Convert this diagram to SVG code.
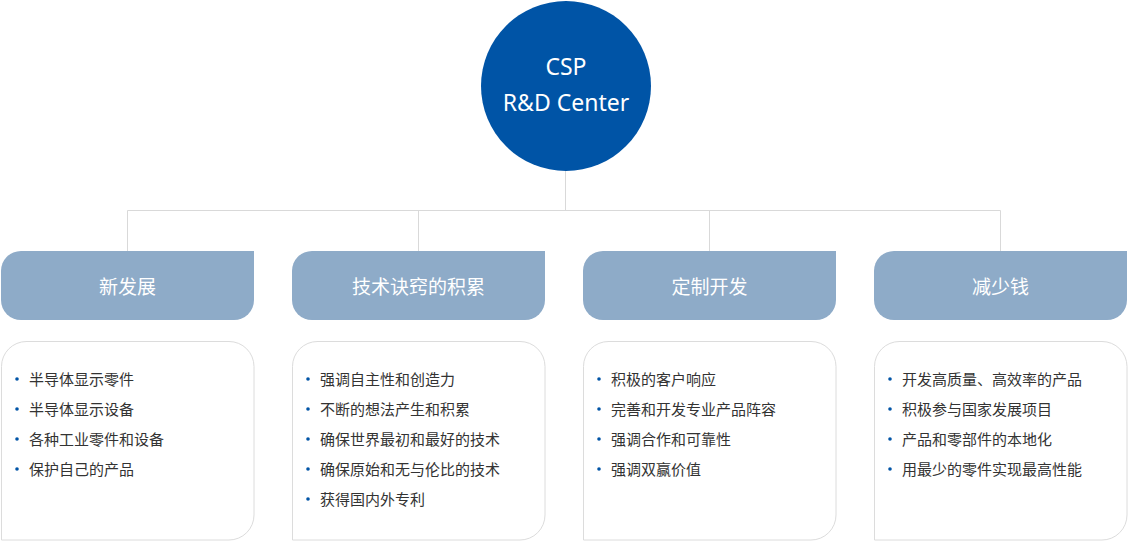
<svg xmlns="http://www.w3.org/2000/svg" width="1131" height="542" viewBox="0 0 1131 542">
<style>
.hd{fill:#8eabc8}
.bx{fill:#fff;stroke:#dcdcdc;stroke-width:1}
.ht{font-family:"Noto Sans CJK SC","Noto Sans",sans-serif;font-size:19px;fill:#fff;text-anchor:middle}
.it{font-family:"Noto Sans CJK SC","Noto Sans",sans-serif;font-size:15px;fill:#333}
.dot{fill:#0054a6}
.ln{stroke:#d9d9d9;stroke-width:1;fill:none}
</style>
<g id="connectors">
<path class="ln" d="M565.5 168V210.5M127.5 251V210.5H1000.5V251M418.5 210.5V251M709.5 210.5V251"/>
</g>
<g id="center">
<circle cx="566" cy="86" r="85" fill="#0054a6"/>
<text x="566" y="75" font-family="Noto Sans,sans-serif" font-size="23" fill="#fff" text-anchor="middle">CSP</text>
<text x="566" y="111" font-family="Noto Sans,sans-serif" font-size="23" fill="#fff" text-anchor="middle">R&amp;D Center</text>
</g>
<g id="col1" transform="translate(1,0)">
<path class="hd" d="M20 251H253V300a20 20 0 0 1-20 20H20a20 20 0 0 1-20-20V271a20 20 0 0 1 20-20Z"/>
<text class="ht" x="126.5" y="294">新发展</text>
<path class="bx" d="M25 341.5H228a25 25 0 0 1 25 25V515a25 25 0 0 1-25 25H0.5V366.5a25 25 0 0 1 25-25Z"/>
<g class="it"><text x="28" y="385">半导体显示零件</text><text x="28" y="415">半导体显示设备</text><text x="28" y="445">各种工业零件和设备</text><text x="28" y="475">保护自己的产品</text></g>
<g class="dot"><circle cx="16" cy="379" r="1.8"/><circle cx="16" cy="409" r="1.8"/><circle cx="16" cy="439" r="1.8"/><circle cx="16" cy="469" r="1.8"/></g>
</g>
<g id="col2" transform="translate(292,0)">
<path class="hd" d="M20 251H253V300a20 20 0 0 1-20 20H20a20 20 0 0 1-20-20V271a20 20 0 0 1 20-20Z"/>
<text class="ht" x="126.5" y="294">技术诀窍的积累</text>
<path class="bx" d="M25 341.5H228a25 25 0 0 1 25 25V515a25 25 0 0 1-25 25H0.5V366.5a25 25 0 0 1 25-25Z"/>
<g class="it"><text x="28" y="385">强调自主性和创造力</text><text x="28" y="415">不断的想法产生和积累</text><text x="28" y="445">确保世界最初和最好的技术</text><text x="28" y="475">确保原始和无与伦比的技术</text><text x="28" y="505">获得国内外专利</text></g>
<g class="dot"><circle cx="16" cy="379" r="1.8"/><circle cx="16" cy="409" r="1.8"/><circle cx="16" cy="439" r="1.8"/><circle cx="16" cy="469" r="1.8"/><circle cx="16" cy="499" r="1.8"/></g>
</g>
<g id="col3" transform="translate(583,0)">
<path class="hd" d="M20 251H253V300a20 20 0 0 1-20 20H20a20 20 0 0 1-20-20V271a20 20 0 0 1 20-20Z"/>
<text class="ht" x="126.5" y="294">定制开发</text>
<path class="bx" d="M25 341.5H228a25 25 0 0 1 25 25V515a25 25 0 0 1-25 25H0.5V366.5a25 25 0 0 1 25-25Z"/>
<g class="it"><text x="28" y="385">积极的客户响应</text><text x="28" y="415">完善和开发专业产品阵容</text><text x="28" y="445">强调合作和可靠性</text><text x="28" y="475">强调双赢价值</text></g>
<g class="dot"><circle cx="16" cy="379" r="1.8"/><circle cx="16" cy="409" r="1.8"/><circle cx="16" cy="439" r="1.8"/><circle cx="16" cy="469" r="1.8"/></g>
</g>
<g id="col4" transform="translate(874,0)">
<path class="hd" d="M20 251H253V300a20 20 0 0 1-20 20H20a20 20 0 0 1-20-20V271a20 20 0 0 1 20-20Z"/>
<text class="ht" x="126.5" y="294">减少钱</text>
<path class="bx" d="M25 341.5H228a25 25 0 0 1 25 25V515a25 25 0 0 1-25 25H0.5V366.5a25 25 0 0 1 25-25Z"/>
<g class="it"><text x="28" y="385">开发高质量、高效率的产品</text><text x="28" y="415">积极参与国家发展项目</text><text x="28" y="445">产品和零部件的本地化</text><text x="28" y="475">用最少的零件实现最高性能</text></g>
<g class="dot"><circle cx="16" cy="379" r="1.8"/><circle cx="16" cy="409" r="1.8"/><circle cx="16" cy="439" r="1.8"/><circle cx="16" cy="469" r="1.8"/></g>
</g>
</svg>
